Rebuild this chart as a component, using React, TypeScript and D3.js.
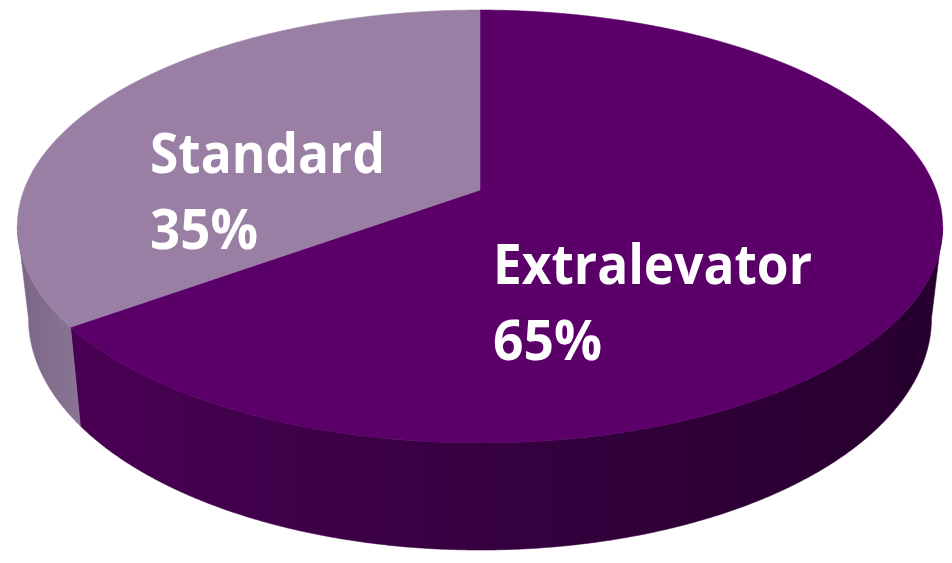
import React from 'react';
import * as d3 from 'd3';

// ---- data ----
const categories = ['Extralevator', 'Standard'];
const values = [65, 35];
const percentLabels = ['65%', '35%'];

// ---- layout / style ----
const W = 952;
const H = 563;
const CX = 480; // projected pie centre x
const CY = 190; // projected pie centre y (top face)
const A = 456; // top face horizontal radius factor
const B = 210.3; // top face vertical radius factor
const K = 0.1686; // perspective strength
const A2 = 445; // bottom face horizontal radius factor
const D = 89; // thickness
const topColors = ['#5a0068', '#9a7fa5'];
const sideStops = [
  ['#4a0054', '#35003f', '#27002e'],
  ['#7a6585', '#8a7595'],
];
const labelAnchors: [number, number][] = [
  [493, 284],
  [150, 173],
];
const labelWidths = [
  [319, 109],
  [235, 108],
];
const LINE_GAP = 76;
const FONT = '"Open Sans", Lato, sans-serif';
const FONT_SIZE = 55;

type P = [number, number];

function pt(theta: number, r: number, bottom: boolean): P {
  const u = r * Math.sin(theta);
  const v = -r * Math.cos(theta);
  const w = 1 - K * v;
  return bottom ? [CX + (A2 * u) / w, CY + (B * v + D) / w] : [CX + (A * u) / w, CY + (B * v) / w];
}

function arcPts(a0: number, a1: number, bottom: boolean): P[] {
  const n = Math.max(2, Math.ceil(Math.abs(a1 - a0) / 0.005));
  return d3.range(n + 1).map((i) => pt(a0 + ((a1 - a0) * i) / n, 1, bottom));
}

export default function App() {
  const pie = d3
    .pie<number>()
    .sort(null)
    .value((d) => d);
  const arcs = pie(values);
  const line = d3.line<P>();

  const t1 = Math.acos(-K);
  const t2 = 2 * Math.PI - t1;

  const sides = arcs.map((a, i) => {
    const s = Math.max(a.startAngle, t1);
    const e = Math.min(a.endAngle, t2);
    if (e <= s) return null;
    const top = arcPts(s, e, false);
    const bot = arcPts(e, s, true);
    const pts = [...top, ...bot];
    const xs = pts.map((p) => p[0]);
    return { i, d: line(pts) + 'Z', x0: d3.min(xs)!, x1: d3.max(xs)! };
  });

  const tops = arcs.map((a, i) => {
    const pts = [pt(0, 0, false), ...arcPts(a.startAngle, a.endAngle, false)];
    return { i, d: line(pts) + 'Z' };
  });

  return (
    <svg width={W} height={H} style={{ display: 'block', position: 'absolute', left: 0, top: 0 }}>
      <defs>
        {sides.map((s) =>
          s ? (
            <linearGradient
              key={'g' + s.i}
              id={'side' + s.i}
              gradientUnits="userSpaceOnUse"
              x1={s.x0}
              x2={s.x1}
              y1={0}
              y2={0}
            >
              {s.i === 0 ? (
                <>
                  <stop offset="0" stopColor={sideStops[0][0]} />
                  <stop offset="0.5" stopColor={sideStops[0][1]} />
                  <stop offset="1" stopColor={sideStops[0][2]} />
                </>
              ) : (
                <>
                  <stop offset="0" stopColor={sideStops[1][0]} />
                  <stop offset="1" stopColor={sideStops[1][1]} />
                </>
              )}
            </linearGradient>
          ) : null
        )}
      </defs>
      <rect width={W} height={H} fill="#ffffff" />
      {sides.map((s) =>
        s ? (
          <path key={'s' + s.i} d={s.d} fill={`url(#side${s.i})`} stroke={`url(#side${s.i})`} strokeWidth={0.6} />
        ) : null
      )}
      {tops.map((t) => (
        <path key={'t' + t.i} d={t.d} fill={topColors[t.i]} stroke={topColors[t.i]} strokeWidth={0.6} />
      ))}
      {categories.map((c, i) => (
        <g key={'l' + i} fill="#ffffff" fontFamily={FONT} fontWeight={700} fontSize={FONT_SIZE}>
          <text
            x={labelAnchors[i][0]}
            y={labelAnchors[i][1]}
            textLength={labelWidths[i][0]}
            lengthAdjust="spacingAndGlyphs"
          >
            {c}
          </text>
          <text
            x={labelAnchors[i][0]}
            y={labelAnchors[i][1] + LINE_GAP}
            textLength={labelWidths[i][1]}
            lengthAdjust="spacingAndGlyphs"
          >
            {percentLabels[i]}
          </text>
        </g>
      ))}
    </svg>
  );
}
